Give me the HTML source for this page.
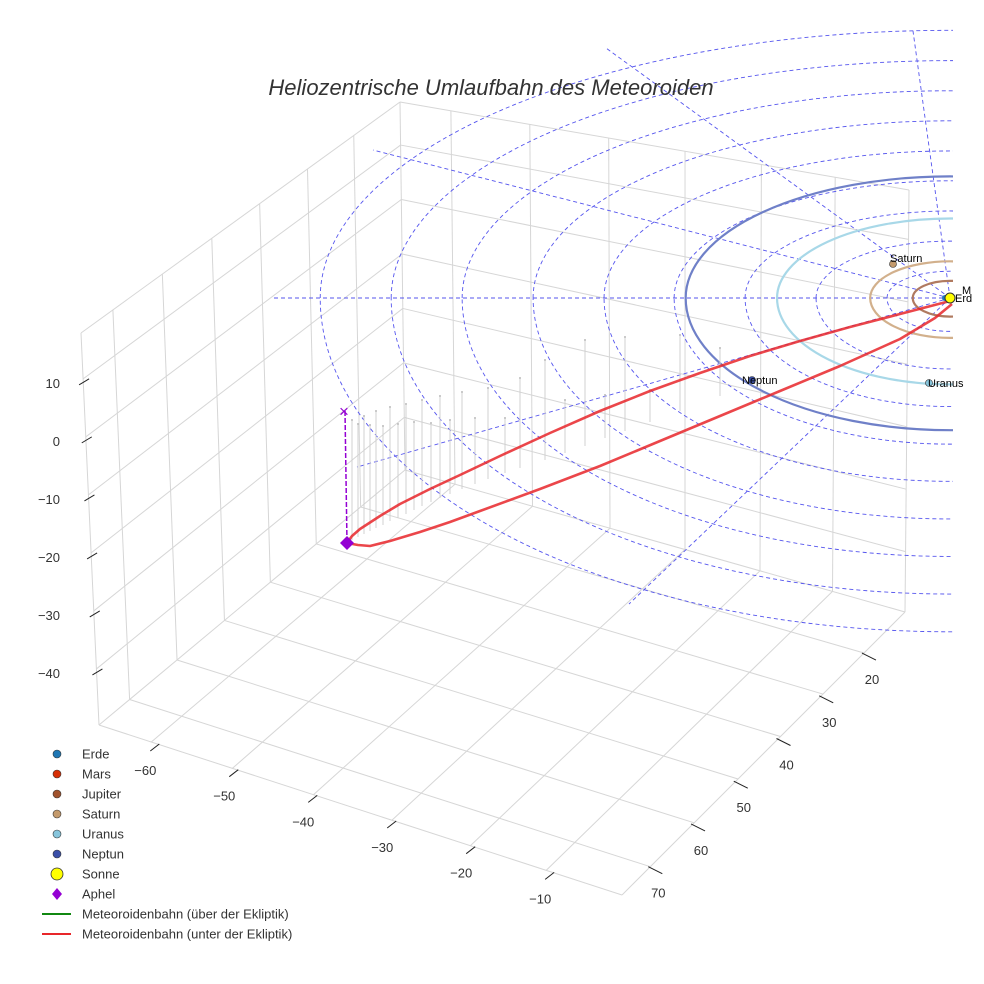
<!DOCTYPE html>
<html><head><meta charset="utf-8"><style>
body{margin:0;background:#fff}
svg{display:block;font-family:"Liberation Sans",sans-serif}
</style></head><body>
<svg id="c" width="984" height="984" viewBox="0 0 984 984">
<defs><clipPath id="cl"><rect x="0" y="0" width="953" height="984"/></clipPath></defs>
<g id="panes"></g>
<g id="ecl" clip-path="url(#cl)"></g>
<g id="orb" clip-path="url(#cl)"></g>
<g id="met"></g>
<g id="mk"></g>
<g id="ax"></g>
<g id="lg"></g>
<text x="491" y="95" text-anchor="middle" font-size="22" font-style="italic" fill="#333">Heliozentrische Umlaufbahn des Meteoroiden</text>
</svg>
<script>
// data
const zTicks=[10,0,-10,-20,-30,-40];
const xTicks=[-60,-50,-40,-30,-20,-10];
const yTicks=[70,60,50,40,30,20];
const planetNames=["Jupiter","Saturn","Uranus","Neptun"];
const planetAU=[4.2,9.0,19.5,29.8];
const planetColors=["#b07a60","#d2b08c","#a8d8e8","#6f80c8"];
const gridAU=[7.1,15.1,23.1,31.1,39,47,55,63,71];
const upperX=[347,352,360,380,400,430,460,500,550,600,650,700,750,800,850,900,950];
const upperY=[543,536,529,516,504,489,475,456,433,411,391,373,356,341,327,314,301];
const lowerX=[347,358,370,390,420,450,480,540,600,660,720,780,840,900,935,952];
const lowerY=[543,545,546,541,532,522,511,489,466,441,416,391,366,339,318,304];
const stemX=[352,358,364,370,376,383,390,398,406,414,422,431,440,450,462,475,488,505,520,545,565,585,605,625,650,680,720];
const stemTop=[420,424,416,425,411,426,407,424,404,422,400,423,396,420,392,418,388,418,378,360,400,340,395,337,390,335,348];
const stemBot=[540,537,534,531,528,525,521,518,514,510,506,502,498,494,489,484,479,473,468,460,453,446,438,431,422,411,396];
const legendLabels=["Erde","Mars","Jupiter","Saturn","Uranus","Neptun","Sonne","Aphel","Meteoroidenbahn (über der Ekliptik)","Meteoroidenbahn (unter der Ekliptik)"];
const legendColors=["#1f77b4","#d62f05","#a0522d","#c49a6c","#87c5dc","#3a4fa8","#ffff00","#9400d3","#118811","#e8262a"];

const NS="http://www.w3.org/2000/svg";
function mk(p,t,a){const e=document.createElementNS(NS,t);for(const k in a)e.setAttribute(k,a[k]);document.getElementById(p).appendChild(e);return e;}
const sun={x:950,y:298}, pxAU=8.87;
// panes
const FLT=[81,333],BLT=[400,102],BLB=[405,470],FLB=[99,725],BRT=[909,190],BRB=[905,612],FRB=[622,895];
const G=[0.10,0.255,0.41,0.56,0.71,0.855];
function lerp(a,b,t){return[a[0]+(b[0]-a[0])*t,a[1]+(b[1]-a[1])*t];}
function ln(p,a,b,c,w){return mk(p,"line",{x1:a[0],y1:a[1],x2:b[0],y2:b[1],stroke:c,"stroke-width":w});}
function gl(a,b,n){const e=ln("panes",a,b,"#d6d6d6",1);}
gl(FLT,BLT,'pane-edge');gl(BLT,BLB,'pane-edge');gl(BLT,BRT,'pane-edge');gl(FLB,BLB,'pane-edge');gl(BLB,BRB,'pane-edge');gl(FLT,FLB,'pane-edge');gl(FLB,FRB,'pane-edge');gl(FRB,BRB,'pane-edge');gl(BRT,BRB,'pane-edge');
const GZ=[0.117,0.265,0.413,0.561,0.709,0.857];
G.forEach((t,i)=>{
 gl(lerp(FLT,BLT,t),lerp(FLB,BLB,t),'left-wall-grid-line');
 gl(lerp(FLT,FLB,GZ[i]),lerp(BLT,BLB,GZ[i]),'left-wall-grid-line');
 gl(lerp(BLT,BRT,t),lerp(BLB,BRB,t),'back-wall-grid-line');
 gl(lerp(BLT,BLB,GZ[i]),lerp(BRT,BRB,GZ[i]),'back-wall-grid-line');
 gl(lerp(FLB,FRB,t),lerp(BLB,BRB,t),'floor-grid-line');
 gl(lerp(FLB,BLB,t),lerp(FRB,BRB,t),'floor-grid-line');
});
function halfEll(cx,cy,rx,rt,rb){return `M${cx-rx},${cy} A${rx},${rt} 0 0 1 ${cx+rx},${cy} A${rx},${rb} 0 0 1 ${cx-rx},${cy}Z`;}
// ecliptic grid
gridAU.forEach(r=>{const rx=r*pxAU;const e=mk("ecl","path",{d:halfEll(sun.x,sun.y,rx,rx*0.425,rx*0.53),fill:"none",stroke:"#5555ee","stroke-width":0.9,"stroke-dasharray":"4 3"});
});
[[274,298],[373,150],[606,48],[913,31],[629,604],[357,467]].forEach(p=>{const e=ln("ecl",[sun.x,sun.y],p,"#5555ee",0.9);e.setAttribute("stroke-dasharray","4 3");
});
// stems
stemX.forEach((x,i)=>{const e=ln("met",[x,stemTop[i]],[x,stemBot[i]],"#d0d0d0",1);
const d=mk("met","circle",{cx:x,cy:stemTop[i],r:1,fill:"#bbb"});});
// planet orbits
planetAU.forEach((a,i)=>{const rx=a*pxAU;const e=mk("orb","path",{d:halfEll(sun.x,sun.y,rx,rx*0.46,rx*0.5),fill:"none",stroke:planetColors[i],"stroke-width":2.2});
});
// meteoroid
function pl(xs,ys){return xs.map((x,i)=>x+","+ys[i]).join(" ");}
let e=mk("met","polyline",{points:pl(upperX,upperY),fill:"none",stroke:"#e8262a","stroke-width":2.6,"stroke-opacity":0.85,"stroke-linejoin":"round"});

e=mk("met","polyline",{points:pl(lowerX,lowerY),fill:"none",stroke:"#e8262a","stroke-width":2.6,"stroke-opacity":0.85,"stroke-linejoin":"round"});

// markers
e=ln("mk",[345,411],[347,543],"#9400d3",1.5);e.setAttribute("stroke-dasharray","5 2");
e=mk("mk","text",{x:344,y:417,"text-anchor":"middle","font-size":17,fill:"#9400d3"});e.textContent="×";
e=mk("mk","polygon",{points:"347,536 354,543 347,550 340,543",fill:"#9400d3"});
const pm=[["Saturn",893,264,"#c49a6c",890,262],["Neptun",752,380,"#3a4fa8",742,384],["Uranus",929,383,"#87c5dc",928,387]];
pm.forEach(p=>{let c=mk("mk","circle",{cx:p[1],cy:p[2],r:3.5,fill:p[3],stroke:"#333","stroke-width":0.6});
let t=mk("mk","text",{x:p[4],y:p[5],"font-size":11,fill:"#000"});t.textContent=p[0];});
e=mk("mk","circle",{cx:945,cy:298,r:3,fill:"#1f77b4"});
e=mk("mk","circle",{cx:950,cy:298,r:5,fill:"#ffff00",stroke:"#333","stroke-width":1});
e=mk("mk","text",{x:955,y:302,"font-size":11,fill:"#000"});e.textContent="Erd";
e=mk("mk","text",{x:962,y:294,"font-size":11,fill:"#000"});e.textContent="M";
// axis ticks
function zFrac(v){return 0.117+(10-v)/10*0.148;}
zTicks.forEach(v=>{const p=lerp(FLT,FLB,zFrac(v));let l=ln("ax",[p[0]-4,p[1]+6],[p[0]+6,p[1]],"#222",1);
let t=mk("ax","text",{x:60,y:p[1]+9,"font-size":13,fill:"#333","text-anchor":"end"});t.textContent=String(v).replace("-","−");});
function xFrac(v){return 0.10+(v+60)/10*0.151;}
xTicks.forEach(v=>{const p=lerp(FLB,FRB,xFrac(v));let l=ln("ax",[p[0]-1,p[1]+9],[p[0]+8,p[1]+2],"#222",1);
let t=mk("ax","text",{x:p[0]-6,y:p[1]+33,"font-size":13,fill:"#333","text-anchor":"middle"});t.textContent=String(v).replace("-","−");});
function yFrac(v){return 0.10+(70-v)/10*0.151;}
yTicks.forEach(v=>{const p=lerp(FRB,BRB,yFrac(v));let l=ln("ax",[p[0]-2,p[1]],[p[0]+12,p[1]+7],"#222",1);
let t=mk("ax","text",{x:p[0]+8,y:p[1]+31,"font-size":13,fill:"#333","text-anchor":"middle"});t.textContent=v;});
// legend
legendLabels.forEach((s,i)=>{const y=754+i*20;let m;
 if(i<6){m=mk("lg","circle",{cx:57,cy:y,r:4,fill:legendColors[i],stroke:"#333","stroke-width":0.6});}
 else if(i==6){m=mk("lg","circle",{cx:57,cy:y,r:6,fill:legendColors[i],stroke:"#333","stroke-width":0.8});}
 else if(i==7){m=mk("lg","polygon",{points:`57,${y-6} 62,${y} 57,${y+6} 52,${y}`,fill:legendColors[i]});}
 else{m=mk("lg","line",{x1:42,y1:y,x2:71,y2:y,stroke:legendColors[i],"stroke-width":2});}
 
 const t=mk("lg","text",{x:82,y:y+4.5,"font-size":13,fill:"#333"});t.textContent=s;
 });
</script>
</body></html>
